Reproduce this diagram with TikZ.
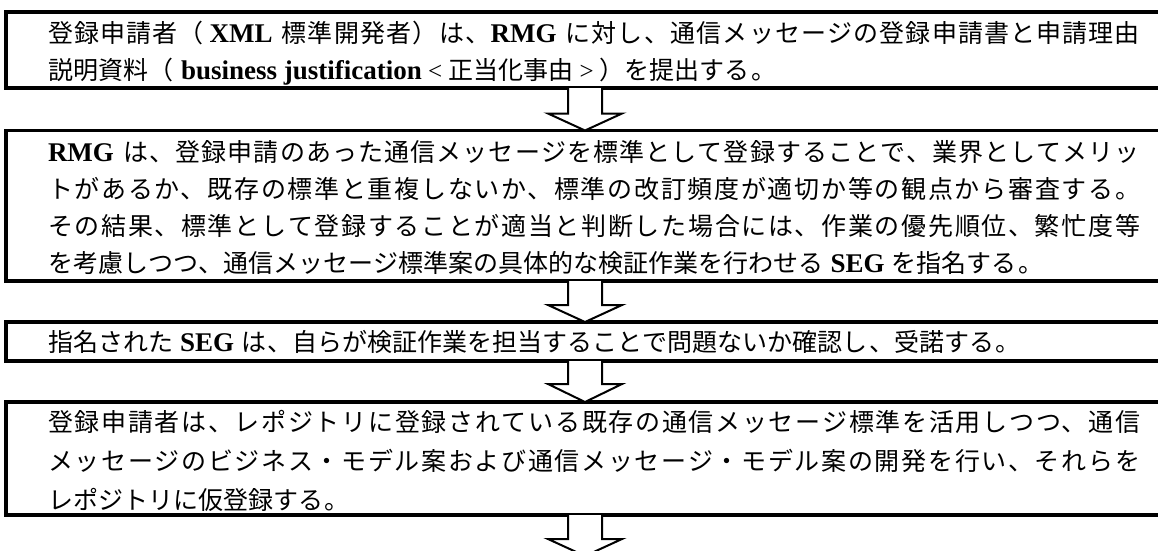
\documentclass[tikz,border=0pt]{standalone}
\usepackage{fontspec}
\setmainfont{Liberation Serif}
\newfontfamily\jp[LetterSpace=6]{Noto Sans CJK JP}
\newcommand\lat[1]{{\rmfamily\bfseries\fontsize{27}{37}\selectfont #1}}
\newcommand\lt[1]{{\rmfamily\fontsize{25}{37}\selectfont #1}}
\XeTeXlinebreaklocale "ja"
\XeTeXlinebreakskip=0pt plus 2pt minus 0.8pt
\begin{document}
\begin{tikzpicture}[x=1pt,y=1pt,
  box/.style={draw, line width=3.2pt, rectangle, inner sep=0pt, outer sep=0pt,
    anchor=north west, minimum width=1170pt},
  txt/.style={anchor=base west, inner sep=0pt, outer sep=0pt, text width=1092pt,
    align=justify, font=\jp\fontsize{25}{37}\selectfont},
  barrow/.style={draw, line width=2pt, fill=white, line join=miter}]
\useasboundingbox (0,0) rectangle (1158,-550);
\fill[white] (0,0) rectangle (1158,-550);

\node[box, minimum height=76pt] (b1) at (6,-12) {};
\node[box, minimum height=150.5pt] (b2) at (6,-130.5) {};
\node[box, minimum height=39pt] (b3) at (6,-322) {};
\node[box, minimum height=113pt] (b4) at (6,-402) {};

\node[txt] (t1) at (48,-42) {登録申請者（\hspace{6pt}\lat{XML} 標準開発者）は、\lat{RMG} に対し、通信メッセージの登録申請書と申請理由\linebreak
説明資料（\hspace{8pt}\lat{business justification}\lt{ < }正当化事由\lt{ > }）を提出する。};
\node[txt] (t2) at (48,-161) {\lat{RMG} は、登録申請のあった通信メッセージを標準として登録することで、業界としてメリッ\linebreak
トがあるか、既存の標準と重複しないか、標準の改訂頻度が適切か等の観点から審査する。\linebreak
その結果、標準として登録することが適当と判断した場合には、作業の優先順位、繁忙度等\linebreak
を考慮しつつ、通信メッセージ標準案の具体的な検証作業を行わせる \lat{SEG} を指名する。};
\node[txt] (t3) at (48,-351) {指名された \lat{SEG} は、自らが検証作業を担当することで問題ないか確認し、受諾する。};
\node[txt, font=\jp\fontsize{25}{39}\selectfont] (t4) at (48,-431) {登録申請者は、レポジトリに登録されている既存の通信メッセージ標準を活用しつつ、通信\linebreak
メッセージのビジネス・モデル案および通信メッセージ・モデル案の開発を行い、それらを\linebreak
レポジトリに仮登録する。};

\coordinate (ax) at (585,0);
\coordinate (next) at (585,-556);

\foreach \s/\e/\h in {b1/b2/17, b2/b3/17, b3/b4/18} {
  \draw[barrow] ([xshift=-17pt]ax |- \s.south) -- ([xshift=-17pt,yshift=\h pt]ax |- \e.north)
    -- ([xshift=-37pt,yshift=\h pt]ax |- \e.north) -- (ax |- \e.north)
    -- ([xshift=37pt,yshift=\h pt]ax |- \e.north) -- ([xshift=17pt,yshift=\h pt]ax |- \e.north)
    -- ([xshift=17pt]ax |- \s.south);
}
\draw[barrow] ([xshift=-17pt]ax |- b4.south) -- ([xshift=-17pt,yshift=17pt]next)
  -- ([xshift=-37pt,yshift=17pt]next) -- (next)
  -- ([xshift=37pt,yshift=17pt]next) -- ([xshift=17pt,yshift=17pt]next)
  -- ([xshift=17pt]ax |- b4.south);
\end{tikzpicture}
\end{document}
